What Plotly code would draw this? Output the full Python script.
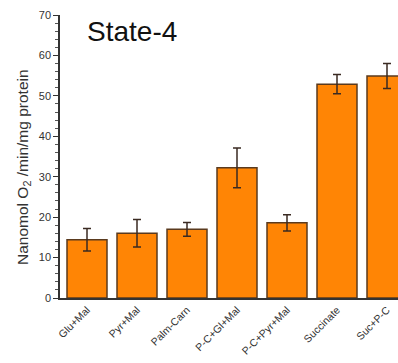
import plotly.graph_objects as go

# Oxygen consumption rates (state 4) per substrate combination
substrates = ["Glu+Mal", "Pyr+Mal", "Palm-Carn", "P-C+Gl+Mal",
              "P-C+Pyr+Mal", "Succinate", "Suc+P-C"]
rates = [14.4, 16.0, 17.0, 32.2, 18.6, 52.9, 54.9]
errors = [2.8, 3.4, 1.7, 4.9, 2.0, 2.4, 3.1]

fig = go.Figure(
    go.Bar(
        x=substrates,
        y=rates,
        width=0.8,
        marker=dict(color="#FF8505", line=dict(color="#5a3a1e", width=1.5)),
        error_y=dict(type="data", array=errors, visible=True,
                     color="#3a2a22", thickness=1.5, width=4),
    )
)

fig.update_layout(
    width=398,
    height=363,
    margin=dict(l=60, r=0, t=15, b=65),
    paper_bgcolor="white",
    plot_bgcolor="white",
    showlegend=False,
    font=dict(family="Arial, Liberation Sans, sans-serif", color="#333"),
    annotations=[
        dict(text="State-4", xref="paper", yref="paper", x=0.075, y=0.94,
             xanchor="left", yanchor="middle", showarrow=False,
             font=dict(size=28, color="#111")),
        dict(text="Nanomol O<sub>2</sub> /min/mg protein",
             xref="paper", yref="paper", x=0, y=0.463, xshift=-36,
             xanchor="center", yanchor="middle", textangle=-90,
             showarrow=False, font=dict(size=15.5, color="#333")),
    ],
)

fig.update_xaxes(
    range=[-0.54, 6.22],
    tickangle=-45,
    tickfont=dict(size=10.5, color="#333"),
    showline=True, linecolor="#333", linewidth=1.5,
    ticks="", showgrid=False,
)

fig.update_yaxes(
    range=[0, 70],
    dtick=10,
    tickfont=dict(size=11, color="#333"),
    showline=True, linecolor="#333", linewidth=1.5,
    ticks="outside", ticklen=5, tickwidth=1.2, tickcolor="#333",
    minor=dict(dtick=2, ticks="outside", ticklen=3, tickcolor="#555", tickwidth=1),
    showgrid=False, zeroline=False,
)

fig.write_html("out.html")
